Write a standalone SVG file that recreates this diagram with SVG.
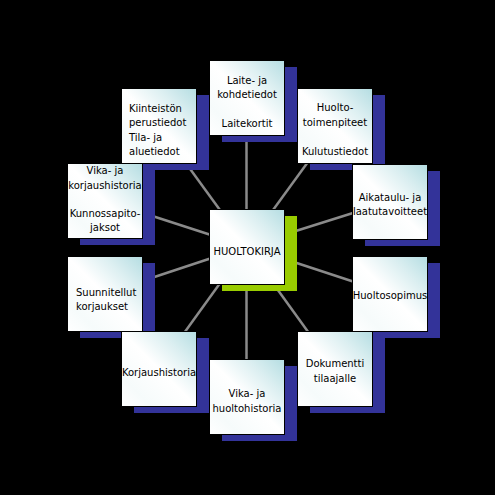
<svg xmlns="http://www.w3.org/2000/svg" width="495" height="495" viewBox="0 0 495 495">
<defs>
<linearGradient id="g" x1="1" y1="0" x2="0" y2="1">
<stop offset="0" stop-color="#b4dde2"/>
<stop offset="0.25" stop-color="#dceff1"/>
<stop offset="0.5" stop-color="#ffffff"/>
<stop offset="0.8" stop-color="#f6fbfb"/>
<stop offset="1" stop-color="#ffffff"/>
</linearGradient>
<style>
.sh{fill:#333399}
.shg{fill:#99cc00}
.bx{fill:url(#g);stroke:#000;stroke-width:1}
.t{font-family:"DejaVu Sans",Verdana,sans-serif;font-size:10px;fill:#000}
.c{text-anchor:middle}
.sp{stroke:#8a8a8a;stroke-width:2.5}
</style>
</defs>
<rect width="495" height="495" fill="#000"/>
<g id="connectors">
<line class="sp" x1="246.5" y1="246.5" x2="246.5" y2="97.5"/>
<line class="sp" x1="246.5" y1="246.5" x2="334.5" y2="125.5"/>
<line class="sp" x1="246.5" y1="246.5" x2="389.5" y2="201.5"/>
<line class="sp" x1="246.5" y1="246.5" x2="389.5" y2="293.5"/>
<line class="sp" x1="246.5" y1="246.5" x2="334.5" y2="368.5"/>
<line class="sp" x1="246.5" y1="246.5" x2="246.5" y2="396.5"/>
<line class="sp" x1="246.5" y1="246.5" x2="158.5" y2="368.5"/>
<line class="sp" x1="246.5" y1="246.5" x2="104.5" y2="293.5"/>
<line class="sp" x1="246.5" y1="246.5" x2="104.5" y2="200.5"/>
<line class="sp" x1="246.5" y1="246.5" x2="158.5" y2="125.5"/>
</g>
<g id="shadows">
<rect class="shg" x="222" y="216" width="75" height="75"/>
<rect class="sh" x="222" y="67" width="75" height="75"/>
<rect class="sh" x="310" y="95" width="75" height="75"/>
<rect class="sh" x="365" y="171" width="75" height="75"/>
<rect class="sh" x="365" y="263" width="75" height="75"/>
<rect class="sh" x="310" y="338" width="75" height="75"/>
<rect class="sh" x="222" y="366" width="75" height="75"/>
<rect class="sh" x="134" y="338" width="75" height="75"/>
<rect class="sh" x="80" y="263" width="75" height="75"/>
<rect class="sh" x="80" y="170" width="75" height="75"/>
<rect class="sh" x="134" y="95" width="75" height="75"/>
</g>
<g id="n-huoltokirja">
<rect class="bx" x="209.5" y="209.5" width="75" height="75"/>
<text class="t c" x="247" y="255">HUOLTOKIRJA</text>
</g>
<g id="n-laite">
<rect class="bx" x="209.5" y="60.5" width="75" height="75"/>
<text class="t c" x="247" y="84">Laite- ja</text>
<text class="t c" x="247" y="98">kohdetiedot</text>
<text class="t c" x="247" y="127">Laitekortit</text>
</g>
<g id="n-huoltotoimenpiteet">
<rect class="bx" x="297.5" y="88.5" width="75" height="75"/>
<text class="t c" x="335" y="111">Huolto-</text>
<text class="t c" x="335" y="125.5">toimenpiteet</text>
<text class="t c" x="335" y="154.5">Kulutustiedot</text>
</g>
<g id="n-aikataulu">
<rect class="bx" x="352.5" y="164.5" width="75" height="75"/>
<text class="t c" x="390" y="201">Aikataulu- ja</text>
<text class="t c" x="390" y="215">laatutavoitteet</text>
</g>
<g id="n-huoltosopimus">
<rect class="bx" x="352.5" y="256.5" width="75" height="75"/>
<text class="t c" x="390" y="298.5">Huoltosopimus</text>
</g>
<g id="n-dokumentti">
<rect class="bx" x="297.5" y="331.5" width="75" height="75"/>
<text class="t c" x="335" y="367">Dokumentti</text>
<text class="t c" x="335" y="382">tilaajalle</text>
</g>
<g id="n-vika-huolto">
<rect class="bx" x="209.5" y="359.5" width="75" height="75"/>
<text class="t c" x="247" y="397">Vika- ja</text>
<text class="t c" x="247" y="412">huoltohistoria</text>
</g>
<g id="n-korjaushistoria">
<rect class="bx" x="121.5" y="331.5" width="75" height="75"/>
<text class="t c" x="159" y="376">Korjaushistoria</text>
</g>
<g id="n-suunnitellut">
<rect class="bx" x="67.5" y="256.5" width="75" height="75"/>
<text class="t" x="76" y="296">Suunnitellut</text>
<text class="t" x="76" y="310">korjaukset</text>
</g>
<g id="n-vika-korjaus">
<rect class="bx" x="67.5" y="163.5" width="75" height="75"/>
<text class="t c" x="105" y="174">Vika- ja</text>
<text class="t c" x="105" y="188.5">korjaushistoria</text>
<text class="t c" x="105" y="217">Kunnossapito-</text>
<text class="t c" x="105" y="231">jaksot</text>
</g>
<g id="n-kiinteisto">
<rect class="bx" x="121.5" y="88.5" width="75" height="75"/>
<text class="t" x="129" y="112">Kiinteistön</text>
<text class="t" x="129" y="126">perustiedot</text>
<text class="t" x="129" y="140.5">Tila- ja</text>
<text class="t" x="129" y="155">aluetiedot</text>
</g>
</svg>
